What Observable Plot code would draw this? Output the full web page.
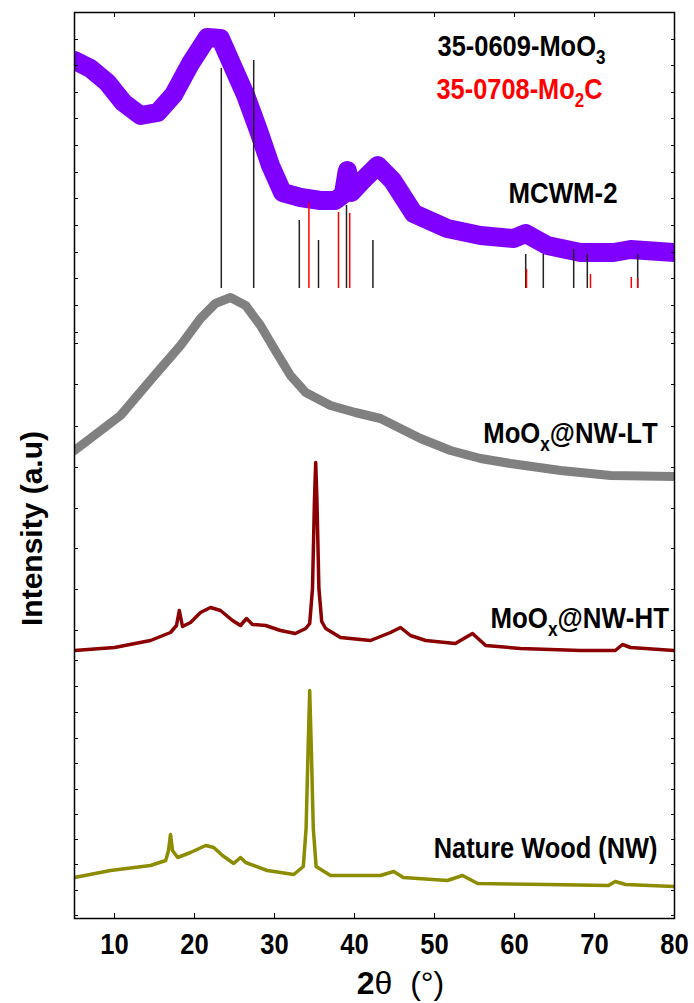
<!DOCTYPE html>
<html><head><meta charset="utf-8">
<script src="https://cdn.jsdelivr.net/npm/d3@7"></script>
<script src="https://cdn.jsdelivr.net/npm/@observablehq/plot@0.6"></script>
<style>
body{margin:0;background:#fff;}
#chart svg{display:block;}
</style></head><body><div id="chart"></div>
<script>
// ---- data (2θ in degrees, intensity in arbitrary stacked units) ----
const xTicks = [10, 20, 30, 40, 50, 60, 70, 80];
const yTicks = [586, 613, 640, 666, 693, 720, 746, 773, 800, 826, 853, 879,
                288, 329, 370, 410, 451, 492, 534, 575,
                3, 28, 54, 79, 104, 129, 155, 180, 206, 232, 258];

const mcwm2 = [[5,858],[7,850],[9.1,836],[11.1,816],[13.25,803],[15.4,806],[17.4,824],[19.5,855],
  [21.6,881],[23.25,880],[24.9,850],[26.4,823],[28,788],[29.5,753],[31,726],[33.25,721],[35.75,718],
  [37.6,718],[38.6,724],[39.1,748],[39.6,726],[41,738],[42.9,753],[44.75,738],[47.4,705],[51.6,690],
  [55.75,683],[59.9,680],[61.4,685],[64.1,673],[68.25,666],[72.4,666],[74.5,669],[80,666]];

const nwLT = [[5,468],[10.75,503],[15,543],[18.25,573],[20.75,600],[22.6,615],[24.5,621],[26.4,613],
  [28.25,593],[30.1,568],[32,543],[33.9,526],[37,513],[40.1,506],[43.25,500],[45.75,490],[48.25,480],
  [52,468],[55.75,460],[59.5,455],[65.75,448],[72,443],[80,442]];

const nwHT = [[5,268],[10,271],[14.5,278],[17,286],[17.75,293],[18.1,308],[18.5,292],[19.5,296],
  [20.75,306],[22,311],[23.25,308],[24.75,298],[25.75,293],[26.5,300],[27.25,294],[28.9,293],
  [30.75,288],[32.6,285],[33.9,290],[34.4,295],[34.75,330],[35,420],[35.15,456],[35.3,420],
  [35.55,330],[35.9,297],[36.4,290],[38.25,281],[42,278],[44.5,286],[45.75,291],[47,283],[48.9,278],
  [52.6,275],[54.75,285],[56.4,273],[60.75,270],[68.25,268],[72.6,268],[73.5,274],[74.5,271],[80,268]];

const nw = [[5,41],[9.5,48],[14.5,53],[16.4,58],[16.75,68],[17,84],[17.25,68],[17.9,61],[19.5,66],
  [21.4,73],[22.4,71],[23.5,63],[24.9,55],[25.75,61],[26.4,56],[29.1,48],[32.4,44],[33.6,52],
  [33.95,90],[34.2,170],[34.4,228],[34.6,170],[34.85,90],[35.2,52],[37,43],[43.25,43],[44.9,47],
  [46.1,41],[51.6,38],[53.5,43],[55.4,35],[64.1,34],[71.75,33],[72.6,37],[73.9,34],[80,32]];

// reference patterns: [2θ, top of stick]
const stickBase = 630;
const moo3Sticks = [[23.35,850],[27.4,858],[33.1,698],[35.5,678],[39.0,713],[42.3,678],
  [61.4,664],[63.6,664],[67.4,669],[69.1,664],[75.4,664]];
const mo2cSticks = [[34.3,715],[38.0,706],[39.4,705],[61.5,649],[69.5,644],[74.6,641],[75.4,640]];

const seriesNames = ["MCWM-2", "MoOₓ@NW-LT", "MoOₓ@NW-HT", "Nature Wood (NW)"];
const refNames = ["35-0609-MoO₃", "35-0708-Mo₂C"];
const xTitle = "2θ  (°)";
const yTitle = "Intensity (a.u)";

// ---- chart ----
const FONT = "'Liberation Sans',Arial,sans-serif";
const P = (d) => d[0], V = (d) => d[1];
const label = (txt, x, y, fill = "black") =>
  Plot.text([txt], {x, y, text: d => d, textAnchor: "start", lineAnchor: "bottom",
    fontSize: 30, fontWeight: "bold", fill});

const chart = Plot.plot({
  width: 694, height: 1003,
  marginTop: 12, marginBottom: 85, marginLeft: 74, marginRight: 20,
  x: {domain: [5, 80]},
  y: {domain: [0, 906]},
  style: {fontFamily: FONT, background: "white", overflow: "visible"},
  marks: [
    Plot.line(nw, {x: P, y: V, stroke: "#8c8c00", strokeWidth: 3.5, clip: true}),
    Plot.line(nwHT, {x: P, y: V, stroke: "#8b0000", strokeWidth: 3.5, clip: true}),
    Plot.line(nwLT, {x: P, y: V, stroke: "#808080", strokeWidth: 9, strokeLinejoin: "round", clip: true}),
    Plot.line(mcwm2, {x: P, y: V, stroke: "#7f00ff", strokeWidth: 19, strokeLinejoin: "round", clip: true}),
    Plot.ruleX(moo3Sticks, {x: P, y1: stickBase, y2: V, stroke: "#222", strokeWidth: 1.5}),
    Plot.ruleX(mo2cSticks, {x: P, y1: stickBase, y2: V, stroke: "#ff0000", strokeWidth: 1.5}),
    Plot.frame({stroke: "black", strokeWidth: 1.5}),
    Plot.axisX(xTicks, {anchor: "bottom", tickSize: 0, tickPadding: 14, fontSize: 30, fontWeight: "bold",
      label: null, className: "xticklabel"}),
    Plot.axisX(xTicks, {anchor: "bottom", tickSize: -5, tickFormat: () => "", label: null}),
    Plot.axisX(xTicks, {anchor: "top", tickSize: -4, tickFormat: () => "", label: null}),
    Plot.axisY(yTicks, {anchor: "left", tickSize: -4, tickFormat: () => "", label: null}),
    Plot.axisY(yTicks, {anchor: "right", tickSize: -4, tickFormat: () => "", label: null}),
    label(refNames[0], 50.375, 863),
    label(refNames[1], 50.25, 820, "#ff0000"),
    label(seriesNames[0], 59.25, 716),
    label(seriesNames[1], 56.1, 476),
    label(seriesNames[2], 57, 291),
    label(seriesNames[3], 49.9, 61),
    Plot.text([yTitle], {frameAnchor: "left", dx: -42, dy: 63, rotate: -90, text: d => d,
      textAnchor: "middle", lineAnchor: "middle", fontSize: 30, fontWeight: "bold"}),
    Plot.text([xTitle], {frameAnchor: "bottom", dx: 26, dy: 75, text: d => d,
      textAnchor: "middle", lineAnchor: "bottom", fontSize: 32, fontWeight: "normal"})
  ]
});
document.getElementById("chart").appendChild(chart);

// subscripts rendered as smaller shifted glyphs; x title with bold "2"
const subMap = {"₂": "2", "₃": "3", "ₓ": "x"};
const NS = "http://www.w3.org/2000/svg";
const texts = Array.from(chart.querySelectorAll("text"));
texts.forEach(t => {
  const s = t.textContent;
  if (s === xTitle) {
    const el = t.querySelector("tspan") || t;
    el.textContent = "";
    const b = document.createElementNS(NS, "tspan");
    b.setAttribute("font-weight", "bold"); b.textContent = "2";
    el.appendChild(b);
    el.appendChild(document.createTextNode(s.slice(1)));
    return;
  }
  if (!/[₂₃ₓ]/.test(s)) return;
  const el = t.querySelector("tspan") || t;
  el.textContent = "";
  let shifted = false;
  for (const ch of s) {
    const sp = document.createElementNS(NS, "tspan");
    if (subMap[ch]) {
      sp.textContent = subMap[ch];
      sp.setAttribute("font-size", "20");
      sp.setAttribute("dy", "8");
      shifted = true;
    } else {
      sp.textContent = ch;
      if (shifted) { sp.setAttribute("dy", "-8"); shifted = false; }
    }
    el.appendChild(sp);
  }
});

// the reference typeface is a condensed bold sans: narrow horizontal texts to the reference widths
const labelWidths = new Map([
  [refNames[0], 168], [refNames[1], 166], [seriesNames[0], 109],
  [seriesNames[1], 172], [seriesNames[2], 178], [seriesNames[3], 224]
]);
texts.forEach(t => {
  const s = t.textContent;
  let k = null;
  for (const [name, w] of labelWidths) {
    if (s === name.replace(/[₂₃]/g, c => subMap[c]).replace("ₓ", "x")) k = w / t.getBBox().width;
  }
  if (k === null && t.closest(".xticklabel")) k = 0.85;
  if (k === null) return;
  const tr = t.getAttribute("transform") || "";
  t.setAttribute("transform", tr + ` scale(${k.toFixed(3)},1)`);
});
</script></body></html>
